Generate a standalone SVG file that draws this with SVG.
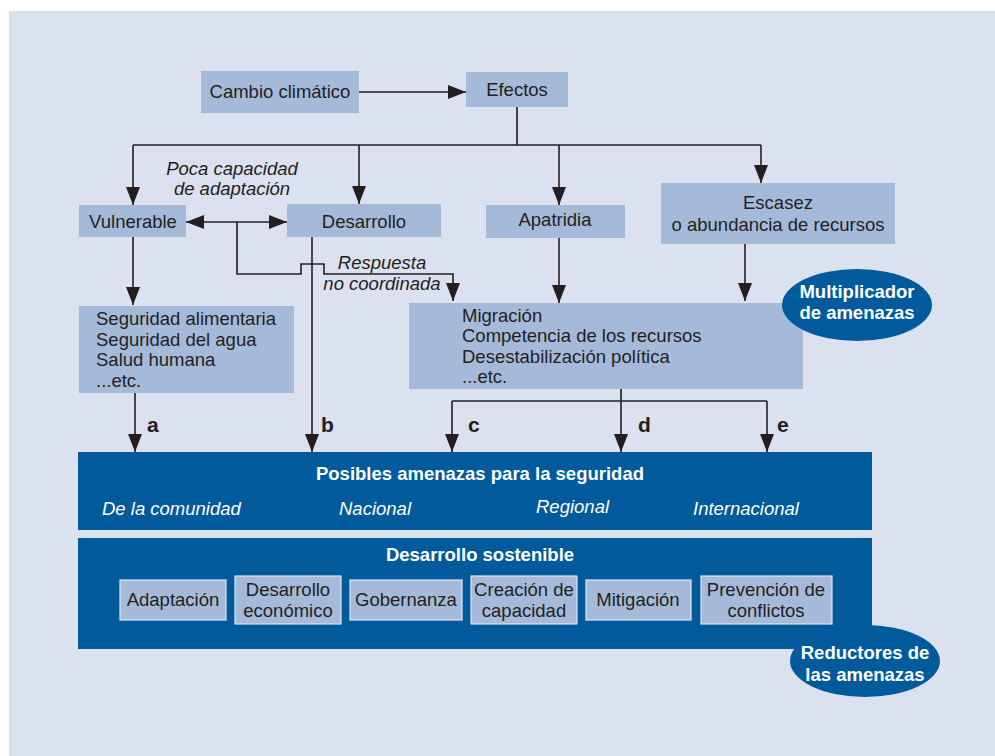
<svg xmlns="http://www.w3.org/2000/svg" width="995" height="756" viewBox="0 0 995 756">
<style>
.t{font-family:"Liberation Sans",Arial,sans-serif;font-size:18.5px;fill:#231f20}
.i{font-style:italic}
.c{text-anchor:middle}
.w{fill:#ffffff}
.b{font-weight:bold}
.box{fill:#a5bad9}
.sbox{fill:#a5bad9;stroke:#dfe5f0;stroke-width:1.2}
.dark{fill:#005a9c}
.ln{fill:none;stroke:#231f20;stroke-width:1.6}
.lbl{font-family:"Liberation Sans",Arial,sans-serif;font-size:21px;font-weight:bold;fill:#231f20}
</style>
<defs>
<marker id="ah" markerUnits="userSpaceOnUse" markerWidth="18" markerHeight="14" refX="18" refY="7" orient="auto-start-reverse">
<path d="M0,0 L18,7 L0,14 z" fill="#231f20"/>
</marker>
</defs>
<rect x="0" y="0" width="995" height="756" fill="#ffffff"/>
<rect x="9" y="11" width="986" height="745" fill="#dbe1ee"/>

<g id="connectors">
<path class="ln" d="M359,92 H466" marker-end="url(#ah)"/>
<path class="ln" d="M517,107 V145 M133,145 H761"/>
<path class="ln" d="M133,145 V205" marker-end="url(#ah)"/>
<path class="ln" d="M359,145 V204" marker-end="url(#ah)"/>
<path class="ln" d="M559,145 V205" marker-end="url(#ah)"/>
<path class="ln" d="M761,145 V183" marker-end="url(#ah)"/>
<path class="ln" d="M186,222 H287" marker-start="url(#ah)" marker-end="url(#ah)"/>
<path class="ln" d="M237,222 V274 H301 V264 H324 V274 H453 V301" marker-end="url(#ah)"/>
<path class="ln" d="M312,237 V452" marker-end="url(#ah)"/>
<path class="ln" d="M133,237 V305" marker-end="url(#ah)"/>
<path class="ln" d="M559,238 V303" marker-end="url(#ah)"/>
<path class="ln" d="M745,244 V301" marker-end="url(#ah)"/>
<path class="ln" d="M135,393 V452" marker-end="url(#ah)"/>
<path class="ln" d="M452,401 H767 M621,389 V401"/>
<path class="ln" d="M452,401 V452" marker-end="url(#ah)"/>
<path class="ln" d="M621,401 V452" marker-end="url(#ah)"/>
<path class="ln" d="M767,401 V452" marker-end="url(#ah)"/>
<text class="t i c" x="232" y="175">Poca capacidad</text>
<text class="t i c" x="232" y="195">de adaptación</text>
<text class="t i c" x="382" y="269">Respuesta</text>
<text class="t i c" x="382" y="290">no coordinada</text>
<text class="lbl" x="147" y="432">a</text>
<text class="lbl" x="321" y="432">b</text>
<text class="lbl" x="468" y="432">c</text>
<text class="lbl" x="638" y="432">d</text>
<text class="lbl" x="777" y="432">e</text>
</g>

<g id="cambio">
<rect class="box" x="201" y="71" width="158" height="42"/>
<text class="t c" x="280" y="98">Cambio climático</text>
</g>
<g id="efectos">
<rect class="box" x="466" y="72" width="102" height="35"/>
<text class="t c" x="517" y="96">Efectos</text>
</g>
<g id="vulnerable">
<rect class="box" x="79" y="205" width="107" height="32"/>
<text class="t c" x="133" y="228">Vulnerable</text>
</g>
<g id="desarrollo">
<rect class="box" x="287" y="204" width="154" height="33"/>
<text class="t c" x="364" y="228">Desarrollo</text>
</g>
<g id="apatridia">
<rect class="box" x="486" y="205" width="139" height="33"/>
<text class="t c" x="555" y="226">Apatridia</text>
</g>
<g id="escasez">
<rect class="box" x="661" y="183" width="234" height="61"/>
<text class="t c" x="778" y="209">Escasez</text>
<text class="t c" x="778" y="231">o abundancia de recursos</text>
</g>
<g id="seguridad">
<rect class="box" x="79" y="306" width="215" height="87"/>
<text class="t" x="96" y="325">Seguridad alimentaria</text>
<text class="t" x="96" y="346">Seguridad del agua</text>
<text class="t" x="96" y="366">Salud humana</text>
<text class="t" x="96" y="387">...etc.</text>
</g>
<g id="migracion">
<rect class="box" x="409" y="303" width="394" height="86"/>
<text class="t" x="462" y="322">Migración</text>
<text class="t" x="462" y="342">Competencia de los recursos</text>
<text class="t" x="462" y="363">Desestabilización política</text>
<text class="t" x="462" y="383">...etc.</text>
</g>
<g id="multiplicador">
<ellipse class="dark" cx="857" cy="305" rx="75" ry="36"/>
<text class="t w b c" x="857" y="298">Multiplicador</text>
<text class="t w b c" x="857" y="319">de amenazas</text>
</g>
<g id="amenazas">
<rect class="dark" x="78" y="452" width="794" height="78"/>
<text class="t w b c" x="480" y="480">Posibles amenazas para la seguridad</text>
<text class="t w i" x="102" y="515">De la comunidad</text>
<text class="t w i" x="339" y="515">Nacional</text>
<text class="t w i" x="536" y="513">Regional</text>
<text class="t w i" x="693" y="515">Internacional</text>
</g>
<g id="sostenible">
<rect class="dark" x="78" y="538" width="794" height="111"/>
<text class="t w b c" x="480" y="561">Desarrollo sostenible</text>
</g>
<g id="adaptacion">
<rect class="sbox" x="120" y="580" width="106" height="40"/>
<text class="t c" x="173" y="606">Adaptación</text>
</g>
<g id="economico">
<rect class="sbox" x="235" y="576" width="106" height="48"/>
<text class="t c" x="288" y="596">Desarrollo</text>
<text class="t c" x="288" y="617">económico</text>
</g>
<g id="gobernanza">
<rect class="sbox" x="350" y="580" width="112" height="40"/>
<text class="t c" x="406" y="606">Gobernanza</text>
</g>
<g id="creacion">
<rect class="sbox" x="471" y="576" width="106" height="48"/>
<text class="t c" x="524" y="596">Creación de</text>
<text class="t c" x="524" y="617">capacidad</text>
</g>
<g id="mitigacion">
<rect class="sbox" x="586" y="580" width="105" height="40"/>
<text class="t c" x="638" y="606">Mitigación</text>
</g>
<g id="prevencion">
<rect class="sbox" x="701" y="576" width="131" height="48"/>
<text class="t c" x="766" y="596">Prevención de</text>
<text class="t c" x="766" y="617">conflictos</text>
</g>
<g id="reductores">
<ellipse class="dark" cx="865" cy="661" rx="75" ry="36"/>
<text class="t w b c" x="865" y="659">Reductores de</text>
<text class="t w b c" x="865" y="681">las amenazas</text>
</g>
</svg>
